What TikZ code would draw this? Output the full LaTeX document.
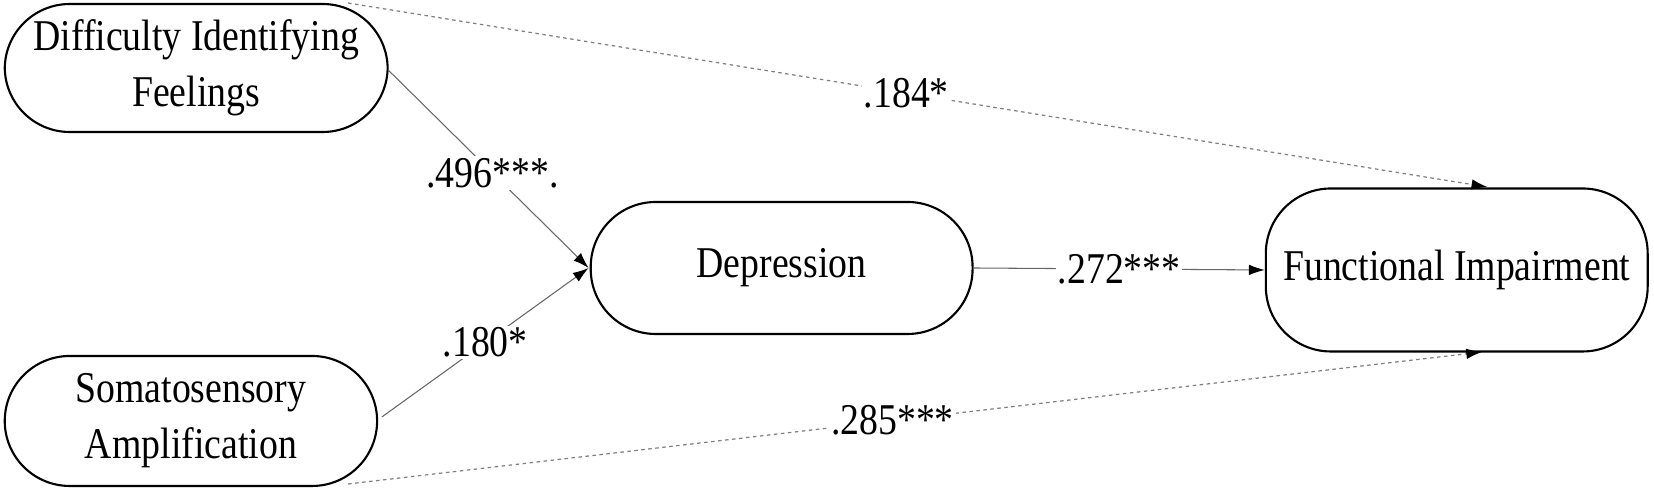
\documentclass[tikz,border=0pt]{standalone}
\usepackage{fontspec}
\setmainfont[FakeStretch=0.86]{Liberation Serif}
\usetikzlibrary{arrows.meta}
\begin{document}
\begin{tikzpicture}[x=0.0211cm,y=-0.02cm,
  box/.style={draw,line width=1.2pt,rounded corners=1.3cm,align=center,font=\fontsize{25}{32}\selectfont,inner sep=0pt},
  lbl/.style={fill=white,inner sep=1pt,font=\fontsize{25}{30}\selectfont},
  sol/.style={draw=black!60,line width=0.6pt,-{Latex[length=9pt,width=6pt,black]}},
  dsh/.style={draw=black!50,line width=0.7pt,dash pattern=on 2pt off 2pt,-{Latex[length=9pt,width=6pt,black]}}]
\useasboundingbox (0,0) rectangle (1568,490);
\node[box,minimum width=363*0.0211cm,minimum height=128*0.02cm] (dif) at (186,68) {Difficulty Identifying\\Feelings};
\node[box,minimum width=353*0.0211cm,minimum height=130*0.02cm] (sa) at (181,421) {Somatosensory\\Amplification};
\node[box,minimum width=362*0.0211cm,minimum height=132*0.02cm] (dep) at (741,268) {Depression};
\node[box,minimum width=362*0.0211cm,minimum height=163*0.02cm] (fi) at (1381,270) {Functional Impairment};
\coordinate (difr) at (368,70);
\coordinate (sar) at (362,417);
\coordinate (dift) at (330,3);
\coordinate (sab) at (330,484);
\coordinate (fit) at (1410,187);
\coordinate (fib) at (1405,352);
\coordinate (depl) at (558,268);
\draw[sol] (difr) -- node[lbl,pos=0.52]{.496***.} (depl);
\draw[sol] (sar) -- node[lbl,pos=0.5]{.180*} (depl);
\draw[sol] (dep.east) -- node[lbl]{.272***} (fi.west);
\draw[dsh] (dift) -- node[lbl,pos=0.49]{.184*} (fit);
\draw[dsh] (sab) -- node[lbl,pos=0.48]{.285***} (fib);
\end{tikzpicture}
\end{document}
